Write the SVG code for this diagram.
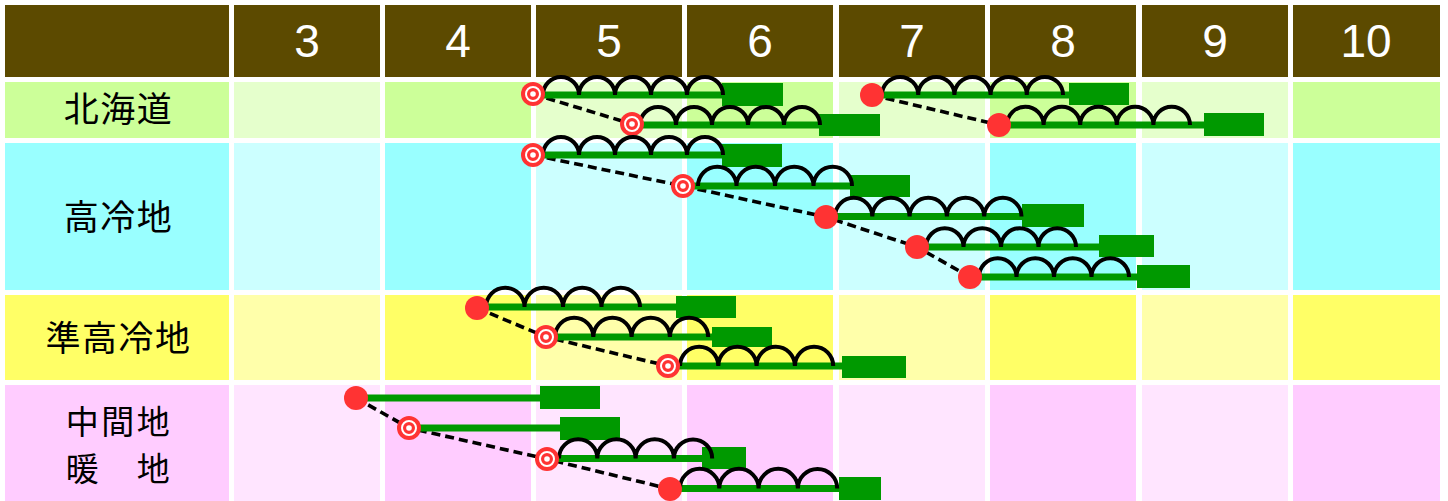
<svg xmlns="http://www.w3.org/2000/svg" width="1448" height="501" viewBox="0 0 1448 501">
<style>
.hd{fill:#5C4A00}
.d1{fill:#CCFF99}.l1{fill:#E5FFCC}
.d2{fill:#99FFFF}.l2{fill:#CCFFFF}
.d3{fill:#FFFF66}.l3{fill:#FFFFAA}
.d4{fill:#FFCCFF}.l4{fill:#FFE5FF}
.num{fill:#fff;font-family:"Liberation Sans",Arial,sans-serif;font-size:46px;text-anchor:middle}
.lab{fill:#000;font-family:"Noto Sans CJK JP","Noto Sans CJK SC",sans-serif;font-size:35px;letter-spacing:1.5px;text-anchor:middle}
.lab2{fill:#000;font-family:"Noto Sans CJK JP","Noto Sans CJK SC",sans-serif;font-size:33px;letter-spacing:2.5px;text-anchor:middle}
.ln{stroke:#009900;stroke-width:7;fill:none}
.bx{fill:#009900}
.arc{fill:none;stroke:#000;stroke-width:4}
.dash{fill:none;stroke:#000;stroke-width:3.6;stroke-dasharray:9 5}
.red{fill:#FF3333}
</style>
<defs>
<g id="bull"><circle r="12" fill="#FF3333"/><circle r="7" fill="none" stroke="#fff" stroke-width="2"/><circle r="2.8" fill="#fff"/></g>
</defs>
<rect width="1448" height="501" fill="#fff"/>
<g id="grid">
<rect class="hd" x="5" y="5" width="224" height="72"/>
<rect class="hd" x="234" y="5" width="146" height="72"/>
<rect class="hd" x="385" y="5" width="146" height="72"/>
<rect class="hd" x="536" y="5" width="146" height="72"/>
<rect class="hd" x="687" y="5" width="146" height="72"/>
<rect class="hd" x="839" y="5" width="146" height="72"/>
<rect class="hd" x="990" y="5" width="146" height="72"/>
<rect class="hd" x="1142" y="5" width="146" height="72"/>
<rect class="hd" x="1293" y="5" width="147" height="72"/>

<rect class="d1" x="5" y="82" width="224" height="56"/>
<rect class="l1" x="234" y="82" width="146" height="56"/>
<rect class="d1" x="385" y="82" width="146" height="56"/>
<rect class="l1" x="536" y="82" width="146" height="56"/>
<rect class="d1" x="687" y="82" width="146" height="56"/>
<rect class="l1" x="839" y="82" width="146" height="56"/>
<rect class="d1" x="990" y="82" width="146" height="56"/>
<rect class="l1" x="1142" y="82" width="146" height="56"/>
<rect class="d1" x="1293" y="82" width="147" height="56"/>

<rect class="d2" x="5" y="143" width="224" height="147"/>
<rect class="l2" x="234" y="143" width="146" height="147"/>
<rect class="d2" x="385" y="143" width="146" height="147"/>
<rect class="l2" x="536" y="143" width="146" height="147"/>
<rect class="d2" x="687" y="143" width="146" height="147"/>
<rect class="l2" x="839" y="143" width="146" height="147"/>
<rect class="d2" x="990" y="143" width="146" height="147"/>
<rect class="l2" x="1142" y="143" width="146" height="147"/>
<rect class="d2" x="1293" y="143" width="147" height="147"/>

<rect class="d3" x="5" y="295" width="224" height="85"/>
<rect class="l3" x="234" y="295" width="146" height="85"/>
<rect class="d3" x="385" y="295" width="146" height="85"/>
<rect class="l3" x="536" y="295" width="146" height="85"/>
<rect class="d3" x="687" y="295" width="146" height="85"/>
<rect class="l3" x="839" y="295" width="146" height="85"/>
<rect class="d3" x="990" y="295" width="146" height="85"/>
<rect class="l3" x="1142" y="295" width="146" height="85"/>
<rect class="d3" x="1293" y="295" width="147" height="85"/>

<rect class="d4" x="5" y="385" width="224" height="116"/>
<rect class="l4" x="234" y="385" width="146" height="116"/>
<rect class="d4" x="385" y="385" width="146" height="116"/>
<rect class="l4" x="536" y="385" width="146" height="116"/>
<rect class="d4" x="687" y="385" width="146" height="116"/>
<rect class="l4" x="839" y="385" width="146" height="116"/>
<rect class="d4" x="990" y="385" width="146" height="116"/>
<rect class="l4" x="1142" y="385" width="146" height="116"/>
<rect class="d4" x="1293" y="385" width="147" height="116"/>
</g>
<g id="header">
<text class="num" x="307" y="57">3</text>
<text class="num" x="458" y="57">4</text>
<text class="num" x="609" y="57">5</text>
<text class="num" x="760" y="57">6</text>
<text class="num" x="912" y="57">7</text>
<text class="num" x="1063" y="57">8</text>
<text class="num" x="1215" y="57">9</text>
<text class="num" x="1366" y="57">10</text>
</g>
<g id="labels">
<text class="lab" x="118.5" y="122">北海道</text>
<text class="lab" x="118.5" y="230">高冷地</text>
<text class="lab" x="118.5" y="351">準高冷地</text>
<text class="lab2" x="119" y="434">中間地</text>
<text class="lab2" x="119" y="481">暖　地</text>
</g>
<g id="connectors">
<polyline class="dash" points="533,94 632,124"/>
<polyline class="dash" points="872,95 999,125"/>
<polyline class="dash" points="533,155 683,186 826,217 917,247 970,277"/>
<polyline class="dash" points="477,308 546,337 668,366"/>
<polyline class="dash" points="356,398 409,428 547,459 670,489"/>
</g>
<g id="bar-h1">
<line class="ln" x1="533" y1="95" x2="723" y2="95"/>
<rect class="bx" x="722" y="83" width="61" height="23"/>
<path class="arc" d="M543,95 A18,18 0 0 1 579,95 A18,18 0 0 1 615,95 A18,18 0 0 1 651,95 A18,18 0 0 1 687,95 A18,18 0 0 1 723,95"/>
<use href="#bull" x="533" y="94"/>
</g>
<g id="bar-h2">
<line class="ln" x1="632" y1="125" x2="820" y2="125"/>
<rect class="bx" x="819" y="114" width="61" height="22"/>
<path class="arc" d="M640,125 A18,18 0 0 1 676,125 A18,18 0 0 1 712,125 A18,18 0 0 1 748,125 A18,18 0 0 1 784,125 A18,18 0 0 1 820,125"/>
<use href="#bull" x="632" y="124"/>
</g>
<g id="bar-h3">
<line class="ln" x1="872" y1="95" x2="1070" y2="95"/>
<rect class="bx" x="1069" y="83" width="60" height="22"/>
<path class="arc" d="M882,95 A18.1,18.1 0 0 1 918.2,95 A18.1,18.1 0 0 1 954.4,95 A18.1,18.1 0 0 1 990.6,95 A18.1,18.1 0 0 1 1026.8,95 A18.1,18.1 0 0 1 1063,95"/>
<circle class="red" cx="872" cy="95" r="12"/>
</g>
<g id="bar-h4">
<line class="ln" x1="999" y1="125" x2="1205" y2="125"/>
<rect class="bx" x="1204" y="113" width="60" height="23"/>
<path class="arc" d="M1007,125 A18.3,18.3 0 0 1 1043.6,125 A18.3,18.3 0 0 1 1080.2,125 A18.3,18.3 0 0 1 1116.8,125 A18.3,18.3 0 0 1 1153.4,125 A18.3,18.3 0 0 1 1190,125"/>
<circle class="red" cx="999" cy="125" r="12"/>
</g>
<g id="bar-k1">
<line class="ln" x1="533" y1="155" x2="723" y2="155"/>
<rect class="bx" x="722" y="144" width="60" height="23"/>
<path class="arc" d="M543,155 A18,18 0 0 1 579,155 A18,18 0 0 1 615,155 A18,18 0 0 1 651,155 A18,18 0 0 1 687,155 A18,18 0 0 1 723,155"/>
<use href="#bull" x="533" y="155"/>
</g>
<g id="bar-k2">
<line class="ln" x1="683" y1="186" x2="851" y2="186"/>
<rect class="bx" x="850" y="175" width="60" height="22"/>
<path class="arc" d="M698,186 A19.25,19.25 0 0 1 736.5,186 A19.25,19.25 0 0 1 775,186 A19.25,19.25 0 0 1 813.5,186 A19.25,19.25 0 0 1 852,186"/>
<use href="#bull" x="683" y="186"/>
</g>
<g id="bar-k3">
<line class="ln" x1="826" y1="216.5" x2="1023" y2="216.5"/>
<rect class="bx" x="1022" y="204" width="62" height="23"/>
<path class="arc" d="M835,216.5 A18.65,18.65 0 0 1 872.3,216.5 A18.65,18.65 0 0 1 909.6,216.5 A18.65,18.65 0 0 1 946.9,216.5 A18.65,18.65 0 0 1 984.2,216.5 A18.65,18.65 0 0 1 1021.5,216.5"/>
<circle class="red" cx="826" cy="217" r="12"/>
</g>
<g id="bar-k4">
<line class="ln" x1="917" y1="247" x2="1100" y2="247"/>
<rect class="bx" x="1099" y="235" width="55" height="22"/>
<path class="arc" d="M926,247 A18.75,18.75 0 0 1 963.5,247 A18.75,18.75 0 0 1 1001,247 A18.75,18.75 0 0 1 1038.5,247 A18.75,18.75 0 0 1 1076,247"/>
<circle class="red" cx="917" cy="247" r="12"/>
</g>
<g id="bar-k5">
<line class="ln" x1="970" y1="277" x2="1138" y2="277"/>
<rect class="bx" x="1137" y="265" width="53" height="23"/>
<path class="arc" d="M979,277 A18.75,18.75 0 0 1 1016.5,277 A18.75,18.75 0 0 1 1054,277 A18.75,18.75 0 0 1 1091.5,277 A18.75,18.75 0 0 1 1129,277"/>
<circle class="red" cx="970" cy="277" r="12"/>
</g>
<g id="bar-j1">
<line class="ln" x1="477" y1="307" x2="677" y2="307"/>
<rect class="bx" x="676" y="296" width="60" height="22"/>
<path class="arc" d="M486,307 A19.25,19.25 0 0 1 524.5,307 A19.25,19.25 0 0 1 563,307 A19.25,19.25 0 0 1 601.5,307 A19.25,19.25 0 0 1 640,307"/>
<circle class="red" cx="477" cy="308" r="12"/>
</g>
<g id="bar-j2">
<line class="ln" x1="546" y1="337" x2="713" y2="337"/>
<rect class="bx" x="712" y="327" width="60" height="20"/>
<path class="arc" d="M555,337 A19.15,19.15 0 0 1 593.3,337 A19.15,19.15 0 0 1 631.6,337 A19.15,19.15 0 0 1 669.9,337 A19.15,19.15 0 0 1 708.2,337"/>
<use href="#bull" x="546" y="337"/>
</g>
<g id="bar-j3">
<line class="ln" x1="668" y1="366" x2="843" y2="366"/>
<rect class="bx" x="842" y="356" width="64" height="22"/>
<path class="arc" d="M680,366 A19.15,19.15 0 0 1 718.3,366 A19.15,19.15 0 0 1 756.6,366 A19.15,19.15 0 0 1 794.9,366 A19.15,19.15 0 0 1 833.2,366"/>
<use href="#bull" x="668" y="366"/>
</g>
<g id="bar-c1">
<line class="ln" x1="356" y1="398" x2="541" y2="398"/>
<rect class="bx" x="540" y="386" width="60" height="23"/>
<circle class="red" cx="356" cy="398" r="12"/>
</g>
<g id="bar-c2">
<line class="ln" x1="409" y1="428" x2="561" y2="428"/>
<rect class="bx" x="560" y="417" width="60" height="23"/>
<use href="#bull" x="409" y="428"/>
</g>
<g id="bar-c3">
<line class="ln" x1="547" y1="458.5" x2="703" y2="458.5"/>
<rect class="bx" x="702" y="447" width="44" height="22"/>
<path class="arc" d="M559,458.5 A19.15,19.15 0 0 1 597.3,458.5 A19.15,19.15 0 0 1 635.6,458.5 A19.15,19.15 0 0 1 673.9,458.5 A19.15,19.15 0 0 1 712.2,458.5"/>
<use href="#bull" x="547" y="459"/>
</g>
<g id="bar-c4">
<line class="ln" x1="670" y1="488.5" x2="840" y2="488.5"/>
<rect class="bx" x="839" y="477" width="42" height="23"/>
<path class="arc" d="M680,488.5 A19.65,19.65 0 0 1 719.3,488.5 A19.65,19.65 0 0 1 758.6,488.5 A19.65,19.65 0 0 1 797.9,488.5 A19.65,19.65 0 0 1 837.2,488.5"/>
<circle class="red" cx="670" cy="489" r="12"/>
</g>
</svg>
